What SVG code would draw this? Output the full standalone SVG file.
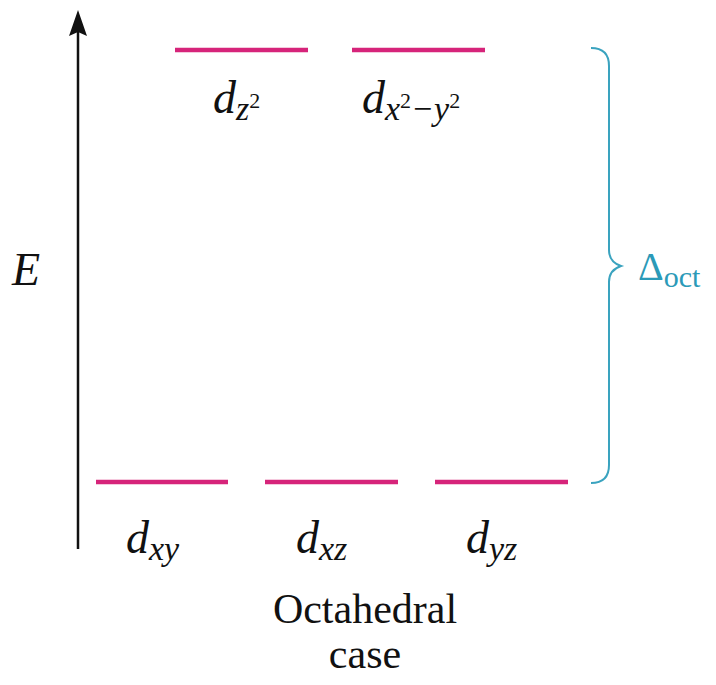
<svg xmlns="http://www.w3.org/2000/svg" width="716" height="685" viewBox="0 0 716 685">
<style>
.lvl{stroke:#d6247a;stroke-width:4.5;stroke-linecap:butt}
.d{font-style:italic;font-size:46px;fill:#111}
.sub{font-style:italic;font-size:34px}
.sup{font-style:normal;font-size:22px}
.cap{font-size:42px;fill:#111}
.teal{fill:#2b9ab8}
</style>
<rect width="716" height="685" fill="#fff"/>
<g font-family="'Liberation Serif', 'DejaVu Serif', serif">
<g id="axis">
<line x1="78" y1="549" x2="78" y2="30" stroke="#111" stroke-width="2.5"/>
<path d="M78 10 L87 36 L78 32 L69 36 Z" fill="#111"/>
<text x="12" y="285" class="d" font-size="48">E</text>
</g>
<g id="dz2">
<line class="lvl" x1="175" y1="50" x2="308" y2="50"/>
<text x="213" y="113" class="d">d<tspan class="sub" dy="7">z</tspan><tspan class="sup" dy="-12">2</tspan></text>
</g>
<g id="dx2y2">
<line class="lvl" x1="352" y1="50" x2="485" y2="50"/>
<text x="362" y="113" class="d">d<tspan class="sub" dy="7">x</tspan><tspan class="sup" dy="-12">2</tspan><tspan class="sub" dy="12">−y</tspan><tspan class="sup" dy="-12">2</tspan></text>
</g>
<g id="dxy">
<line class="lvl" x1="96" y1="482" x2="228" y2="482"/>
<text x="126" y="553" class="d">d<tspan class="sub" dy="7">xy</tspan></text>
</g>
<g id="dxz">
<line class="lvl" x1="265" y1="482" x2="398" y2="482"/>
<text x="296" y="553" class="d">d<tspan class="sub" dy="7">xz</tspan></text>
</g>
<g id="dyz">
<line class="lvl" x1="435" y1="482" x2="568" y2="482"/>
<text x="466" y="553" class="d">d<tspan class="sub" dy="7">yz</tspan></text>
</g>
<g id="delta">
<path d="M591 48 Q609 48 609 66 L609 250 Q609 262 621 266 Q609 270 609 282 L609 465 Q609 483 591 483" fill="none" stroke="#3aa3bf" stroke-width="2"/>
<text x="638" y="280" class="teal" font-size="40">Δ<tspan font-size="30" dy="7">oct</tspan></text>
</g>
<g id="caption">
<text x="365" y="623" class="cap" text-anchor="middle">Octahedral</text>
<text x="365" y="668" class="cap" text-anchor="middle">case</text>
</g>
</g>
</svg>
